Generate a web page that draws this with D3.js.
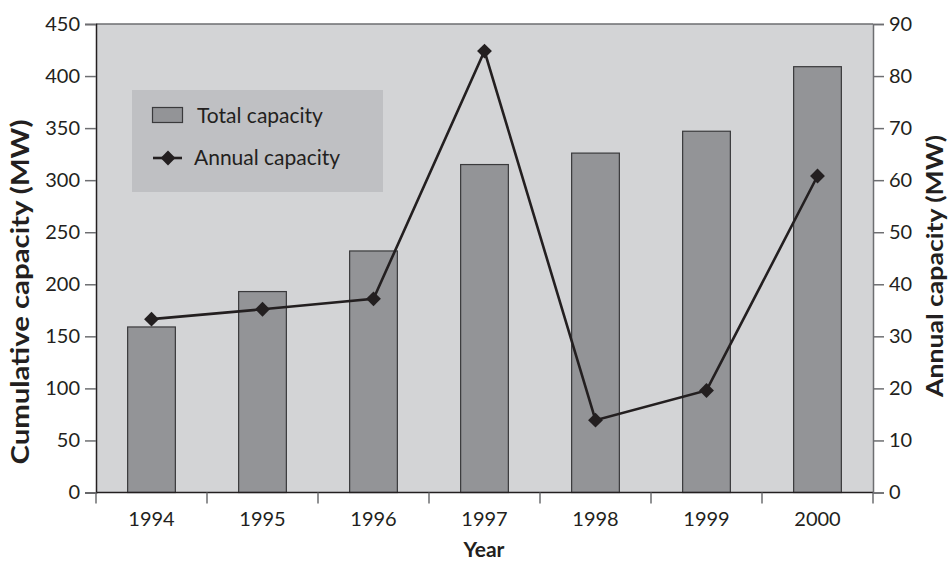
<!DOCTYPE html>
<html>
<head>
<meta charset="utf-8">
<script src="https://cdn.jsdelivr.net/npm/d3@7"></script>
<style>
  html, body { margin: 0; padding: 0; background: #ffffff; }
  svg { display: block; font-family: Lato, "Open Sans", sans-serif; }
</style>
</head>
<body>
<svg id="chart" width="951" height="561"></svg>
<script>
// Wind power capacity by year
const years = ["1994", "1995", "1996", "1997", "1998", "1999", "2000"];
const totalCapacity = [159, 193, 232, 315, 326, 347, 409];
const annualCapacity = [33.3, 35.2, 37.2, 84.8, 13.9, 19.6, 60.8];
const leftTicks = [0, 50, 100, 150, 200, 250, 300, 350, 400, 450];
const rightTicks = [0, 10, 20, 30, 40, 50, 60, 70, 80, 90];

const ink = "#231f20";
const svg = d3.select("#chart");
const m = { left: 96, right: 873, top: 24, bottom: 492.5 };

const x = d3.scaleBand().domain(years).range([m.left, m.right]).paddingInner(0).paddingOuter(0);
const yL = d3.scaleLinear().domain([0, 450]).range([m.bottom, m.top]);
const yR = d3.scaleLinear().domain([0, 90]).range([m.bottom, m.top]);

// plot background
svg.append("rect")
  .attr("x", m.left).attr("y", m.top)
  .attr("width", m.right - m.left).attr("height", m.bottom - m.top)
  .attr("fill", "#d3d4d6");

// top border
svg.append("line")
  .attr("x1", m.left).attr("x2", m.right)
  .attr("y1", m.top).attr("y2", m.top)
  .attr("stroke", "#6d6e71").attr("stroke-width", 1.5);

// bars
const barW = x.bandwidth() * 0.43;
svg.append("g").selectAll("rect")
  .data(years)
  .join("rect")
  .attr("x", d => x(d) + x.bandwidth() / 2 - barW / 2)
  .attr("y", (d, i) => yL(totalCapacity[i]))
  .attr("width", barW)
  .attr("height", (d, i) => m.bottom - yL(totalCapacity[i]))
  .attr("fill", "#939497")
  .attr("stroke", "#3a3a3c")
  .attr("stroke-width", 1.2);

// left axis
const axL = svg.append("g")
  .attr("transform", `translate(${m.left},0)`)
  .call(d3.axisLeft(yL).tickValues(leftTicks).tickSize(11).tickPadding(5));
// right axis
const axR = svg.append("g")
  .attr("transform", `translate(${m.right},0)`)
  .call(d3.axisRight(yR).tickValues(rightTicks).tickSize(11).tickPadding(5));

[axL, axR].forEach(g => {
  g.select(".domain").attr("stroke", "#6d6e71").attr("stroke-width", 1.5);
  g.selectAll(".tick line").attr("stroke", "#6d6e71").attr("stroke-width", 1.5);
  g.selectAll(".tick text")
    .attr("fill", ink)
    .style("font-size", "20px")
    .style("font-family", "Lato, sans-serif");
});
axL.select(".domain").attr("stroke", ink);

// bottom axis: ticks at band boundaries
const bx = svg.append("g").attr("transform", `translate(0,${m.bottom})`);
bx.append("line")
  .attr("x1", m.left).attr("x2", m.right)
  .attr("stroke", ink).attr("stroke-width", 1.5);
const bounds = years.map(d => x(d)).concat([x(years[years.length - 1]) + x.bandwidth()]);
bx.selectAll("line.tk")
  .data(bounds)
  .join("line")
  .attr("class", "tk")
  .attr("x1", d => d).attr("x2", d => d)
  .attr("y1", 0).attr("y2", 11)
  .attr("stroke", "#6d6e71").attr("stroke-width", 1.5);
bx.selectAll("text")
  .data(years)
  .join("text")
  .attr("x", d => x(d) + x.bandwidth() / 2)
  .attr("y", 33)
  .attr("text-anchor", "middle")
  .attr("fill", ink)
  .style("font-size", "20px")
  .text(d => d);

// annual capacity line
const line = d3.line()
  .x(d => x(d.year) + x.bandwidth() / 2)
  .y(d => yR(d.value));
const pts = years.map((yr, i) => ({ year: yr, value: annualCapacity[i] }));
svg.append("path")
  .datum(pts)
  .attr("d", line)
  .attr("fill", "none")
  .attr("stroke", ink)
  .attr("stroke-width", 2.6);

const diamond = d3.symbol().type(d3.symbolSquare).size(110);
svg.append("g").selectAll("path")
  .data(pts)
  .join("path")
  .attr("d", diamond)
  .attr("transform", d => `translate(${x(d.year) + x.bandwidth() / 2},${yR(d.value)}) rotate(45)`)
  .attr("fill", ink);

// legend
const lg = svg.append("g");
lg.append("rect")
  .attr("x", 132).attr("y", 90).attr("width", 251).attr("height", 102)
  .attr("fill", "#bfc0c3");
lg.append("rect")
  .attr("x", 152.5).attr("y", 107.5).attr("width", 30).attr("height", 15)
  .attr("fill", "#939497").attr("stroke", "#3a3a3c").attr("stroke-width", 1.2);
lg.append("text")
  .attr("x", 197).attr("y", 123)
  .attr("fill", ink).style("font-size", "21px")
  .text("Total capacity");
lg.append("line")
  .attr("x1", 153).attr("x2", 182).attr("y1", 158).attr("y2", 158)
  .attr("stroke", ink).attr("stroke-width", 2.6);
lg.append("path")
  .attr("d", diamond)
  .attr("transform", "translate(168,158) rotate(45)")
  .attr("fill", ink);
lg.append("text")
  .attr("x", 194).attr("y", 165)
  .attr("fill", ink).style("font-size", "21px")
  .text("Annual capacity");

// axis titles
svg.append("text")
  .attr("transform", "translate(29,292) rotate(-90)")
  .attr("text-anchor", "middle")
  .attr("fill", ink)
  .attr("textLength", 345).attr("lengthAdjust", "spacingAndGlyphs")
  .style("font-size", "24px").style("font-weight", "bold")
  .text("Cumulative capacity (MW)");
svg.append("text")
  .attr("transform", "translate(943,266) rotate(-90)")
  .attr("text-anchor", "middle")
  .attr("fill", ink)
  .attr("textLength", 262).attr("lengthAdjust", "spacingAndGlyphs")
  .style("font-size", "22px").style("font-weight", "bold")
  .text("Annual capacity (MW)");
svg.append("text")
  .attr("x", 484)
  .attr("y", 557)
  .attr("text-anchor", "middle")
  .attr("fill", ink)
  .style("font-size", "21px").style("font-weight", "bold")
  .text("Year");
</script>
</body>
</html>
